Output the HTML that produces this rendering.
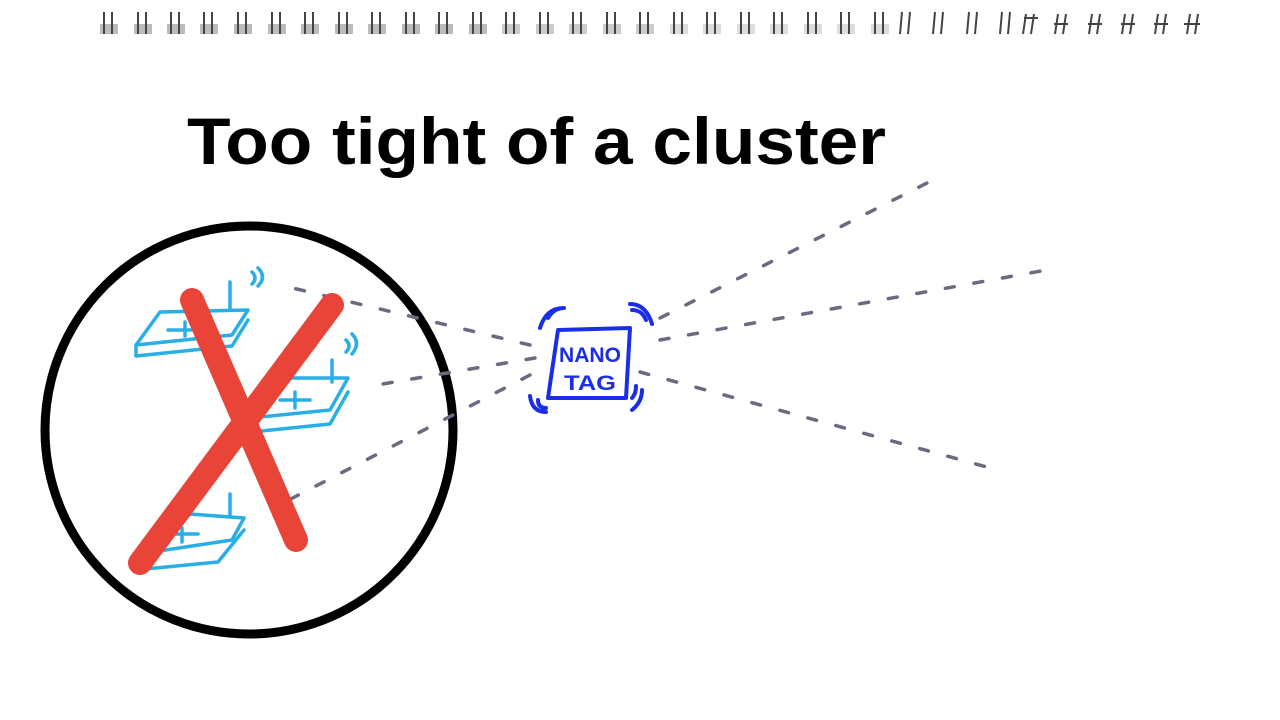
<!DOCTYPE html>
<html><head><meta charset="utf-8"><style>html,body{margin:0;padding:0;background:#fff;width:1280px;height:720px;overflow:hidden}</style></head>
<body>
<svg width="1280" height="720" viewBox="0 0 1280 720" xmlns="http://www.w3.org/2000/svg">
<g id="rings">
<rect x="100" y="24" width="18" height="10" fill="#bbb"/>
<rect x="134" y="24" width="18" height="10" fill="#bbb"/>
<rect x="167" y="24" width="18" height="10" fill="#bbb"/>
<rect x="200" y="24" width="18" height="10" fill="#bbb"/>
<rect x="234" y="24" width="18" height="10" fill="#bbb"/>
<rect x="268" y="24" width="18" height="10" fill="#bbb"/>
<rect x="301" y="24" width="18" height="10" fill="#bbb"/>
<rect x="335" y="24" width="18" height="10" fill="#bbb"/>
<rect x="368" y="24" width="18" height="10" fill="#bbb"/>
<rect x="402" y="24" width="18" height="10" fill="#bbb"/>
<rect x="435" y="24" width="18" height="10" fill="#bbb"/>
<rect x="469" y="24" width="18" height="10" fill="#bbb"/>
<rect x="502" y="24" width="18" height="10" fill="#ccc"/>
<rect x="536" y="24" width="18" height="10" fill="#ccc"/>
<rect x="569" y="24" width="18" height="10" fill="#ccc"/>
<rect x="603" y="24" width="18" height="10" fill="#ccc"/>
<rect x="636" y="24" width="18" height="10" fill="#ccc"/>
<rect x="670" y="24" width="18" height="10" fill="#ddd"/>
<rect x="703" y="24" width="18" height="10" fill="#ddd"/>
<rect x="737" y="24" width="18" height="10" fill="#ddd"/>
<rect x="770" y="24" width="18" height="10" fill="#ddd"/>
<rect x="804" y="24" width="18" height="10" fill="#ddd"/>
<rect x="837" y="24" width="18" height="10" fill="#ddd"/>
<rect x="871" y="24" width="18" height="10" fill="#ddd"/>
</g>
<g stroke="#444" stroke-width="2" fill="none">
<path d="M104 12v22M112 12v22 M138 12v22M146 12v22 M171 12v22M179 12v22 M204 12v22M212 12v22 M238 12v22M246 12v22 M272 12v22M280 12v22 M305 12v22M313 12v22 M339 12v22M347 12v22 M372 12v22M380 12v22 M406 12v22M414 12v22 M439 12v22M447 12v22 M473 12v22M481 12v22 M506 12v22M514 12v22 M540 12v22M548 12v22 M573 12v22M581 12v22 M607 12v22M615 12v22 M640 12v22M648 12v22 M674 12v22M682 12v22 M707 12v22M715 12v22 M741 12v22M749 12v22 M774 12v22M782 12v22 M808 12v22M816 12v22 M841 12v22M849 12v22 M875 12v22M883 12v22 M902 12l-2 22M910 12l-2 22 M935 12l-2 22M943 12l-2 22 M969 12l-2 22M977 12l-2 22 M1002 12l-2 22M1010 12l-2 22 M1026 14l-3 20M1034 14l-3 20M1024 18h14 M1058 14l-3 20M1066 14l-3 20M1054 24h14 M1092 14l-3 20M1100 14l-3 20M1088 24h14 M1125 14l-3 20M1133 14l-3 20M1121 24h14 M1158 14l-3 20M1166 14l-3 20M1154 24h14 M1190 14l-3 20M1198 14l-3 20M1184 24h16"/>
</g>

<text x="187" y="164" font-family="Liberation Sans, sans-serif" font-weight="bold" font-size="66" textLength="699" lengthAdjust="spacingAndGlyphs" fill="#000">Too tight of a cluster</text>

<circle cx="249" cy="430" r="204" fill="none" stroke="#000" stroke-width="9"/>

<g stroke="#6a6a80" stroke-width="3.5" stroke-dasharray="9 20" fill="none" stroke-linecap="round">
<path d="M660 318 L927 183"/>
<path d="M660 340 L1052 269"/>
<path d="M640 372 L998 470"/>
<path d="M530 345 L280 285"/>
<path d="M535 358 L365 387"/>
<path d="M530 375 L285 502"/>
</g>

<g stroke="#29aee6" stroke-width="3.5" fill="none" stroke-linecap="round" stroke-linejoin="round">
<path d="M160 312 L248 310 L232 335 L136 345 Z M136 345 L136 356 L232 346 L248 320"/>
<path d="M168 330 h24 M185 322 v14"/>
<path d="M230 282 v28 M252 272 q6 6 0 12 M258 268 q9 9 0 18"/>
<path d="M275 378 L348 378 L330 410 L250 418 Z M250 418 L252 432 L330 424 L348 392"/>
<path d="M280 400 h30 M295 392 v16"/>
<path d="M332 360 v22 M346 340 q6 6 0 12 M352 334 q9 9 0 20"/>
<path d="M190 514 L244 518 L232 540 L152 552 Z M152 552 L135 570 L218 562 L244 530"/>
<path d="M168 534 h30 M182 528 v14"/>
<path d="M230 494 v22"/>
</g>

<g stroke="#e84538" stroke-width="24" stroke-linecap="round" fill="none">
<path d="M192 300 L296 540"/>
<path d="M332 305 L140 563"/>
</g>

<g stroke="#1a2ee8" stroke-width="4" fill="none" stroke-linecap="round" stroke-linejoin="round">
<path d="M558 330 L630 328 L626 398 L548 398 Z"/>
<path d="M548 318 q6 -10 16 -10 M540 328 q6 -20 24 -20"/>
<path d="M632 310 q10 0 14 10 M630 304 q16 0 22 20"/>
<path d="M538 400 q0 8 8 8 M530 396 q2 16 16 16"/>
<path d="M632 398 q4 -4 4 -12 M632 410 q10 -8 10 -20"/>
</g>
<text x="559" y="362" font-family="Liberation Sans, sans-serif" font-weight="bold" font-size="21" fill="#1a2ee8" textLength="62" lengthAdjust="spacingAndGlyphs">NANO</text>
<text x="564" y="390" font-family="Liberation Sans, sans-serif" font-weight="bold" font-size="21" fill="#1a2ee8" textLength="52" lengthAdjust="spacingAndGlyphs">TAG</text>
</svg>
</body></html>
